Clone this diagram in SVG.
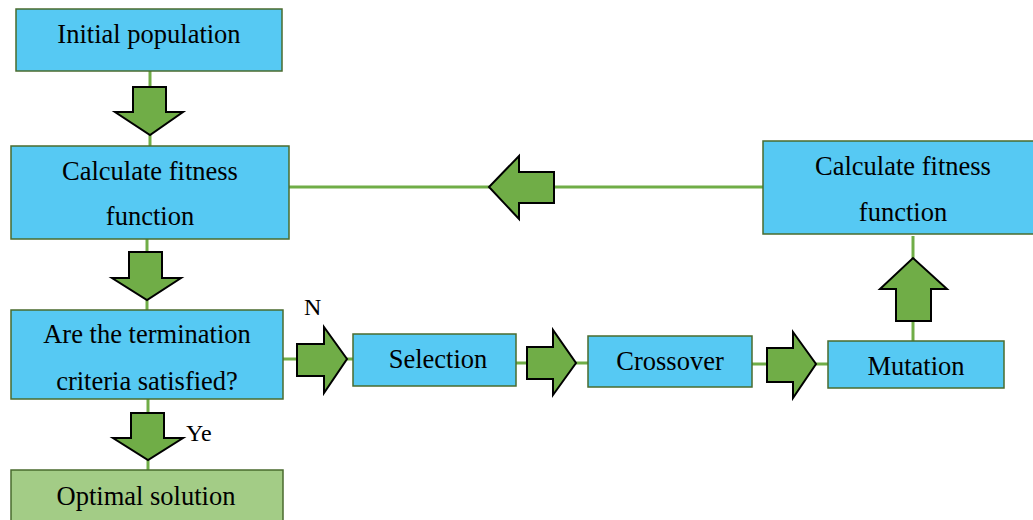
<svg xmlns="http://www.w3.org/2000/svg" width="1033" height="520" viewBox="0 0 1033 520">
  <style>
    .box { fill: #56c9f3; stroke: #4a6b2e; stroke-width: 1.5; }
    .final { fill: #a3cc86; stroke: #4a6b2e; stroke-width: 1.5; }
    .lbl { font-family: "Liberation Serif", "Times New Roman", serif; font-size: 26.5px; fill: #000; text-anchor: middle; }
    .tag { font-family: "Liberation Serif", "Times New Roman", serif; font-size: 24px; fill: #000; }
    .wire { stroke: #70ad47; stroke-width: 3; fill: none; }
    .blk { fill: #70ad47; stroke: #000; stroke-width: 2; stroke-linejoin: miter; }
  </style>
  <rect width="1033" height="520" fill="#fff"/>

  <!-- connectors: thin green lines with block arrows laid over them -->
  <g id="connectors">
    <line class="wire" x1="150" y1="71" x2="150" y2="146"/>
    <line class="wire" x1="147" y1="239" x2="147" y2="310"/>
    <line class="wire" x1="148" y1="399" x2="148" y2="470"/>
    <line class="wire" x1="283" y1="359" x2="353" y2="359"/>
    <line class="wire" x1="516" y1="363" x2="588" y2="363"/>
    <line class="wire" x1="752" y1="364" x2="828" y2="364"/>
    <line class="wire" x1="913" y1="341" x2="913" y2="236"/>
    <line class="wire" x1="763" y1="187" x2="289" y2="187"/>

    <!-- down: initial population -> fitness -->
    <polygon class="blk" points="133,87 166,87 166,112 183,112 150,135 115,112 133,112"/>
    <!-- down: fitness -> termination test -->
    <polygon class="blk" points="129,252 162,252 162,278 181,278 147,300 112,278 129,278"/>
    <!-- down: termination test -> optimal solution -->
    <polygon class="blk" points="131,413 164,413 164,438 183,438 148,460 113,438 131,438"/>
    <!-- right: termination test -> selection -->
    <polygon class="blk" points="297,344 324,344 324,327 347,359 324,393 324,376 297,376"/>
    <!-- right: selection -> crossover -->
    <polygon class="blk" points="527,347 553,347 553,330 576,363 553,395 553,379 527,379"/>
    <!-- right: crossover -> mutation -->
    <polygon class="blk" points="767,348 793,348 793,332 816,364 793,398 793,382 767,382"/>
    <!-- up: mutation -> fitness -->
    <polygon class="blk" points="896,321 931,321 931,289 947,289 913,258 880,289 896,289"/>
    <!-- left: fitness -> fitness -->
    <polygon class="blk" points="554,172 519,172 519,156 489,187 519,219 519,203 554,203"/>

    <text class="tag" x="304" y="315">N</text>
    <text class="tag" x="186" y="441">Ye</text>
  </g>

  <g id="initial">
    <rect class="box" x="16" y="9" width="266" height="62"/>
    <text class="lbl" x="149" y="43">Initial population</text>
  </g>

  <g id="fitness-left">
    <rect class="box" x="11" y="146" width="278" height="93"/>
    <text class="lbl" x="150" y="180">Calculate fitness</text>
    <text class="lbl" x="150" y="225">function</text>
  </g>

  <g id="termination">
    <rect class="box" x="11" y="310" width="272" height="89"/>
    <text class="lbl" x="147" y="343">Are the termination</text>
    <text class="lbl" x="147" y="390">criteria satisfied?</text>
  </g>

  <g id="optimal">
    <rect class="final" x="11" y="470" width="272" height="60"/>
    <text class="lbl" x="146" y="505">Optimal solution</text>
  </g>

  <g id="selection">
    <rect class="box" x="353" y="334" width="163" height="52"/>
    <text class="lbl" x="438" y="368">Selection</text>
  </g>

  <g id="crossover">
    <rect class="box" x="588" y="336" width="164" height="51"/>
    <text class="lbl" x="670" y="370">Crossover</text>
  </g>

  <g id="mutation">
    <rect class="box" x="828" y="341" width="176" height="47"/>
    <text class="lbl" x="916" y="375">Mutation</text>
  </g>

  <g id="fitness-right">
    <rect class="box" x="763" y="141" width="272" height="93"/>
    <text class="lbl" x="903" y="175">Calculate fitness</text>
    <text class="lbl" x="903" y="221">function</text>
  </g>
</svg>
